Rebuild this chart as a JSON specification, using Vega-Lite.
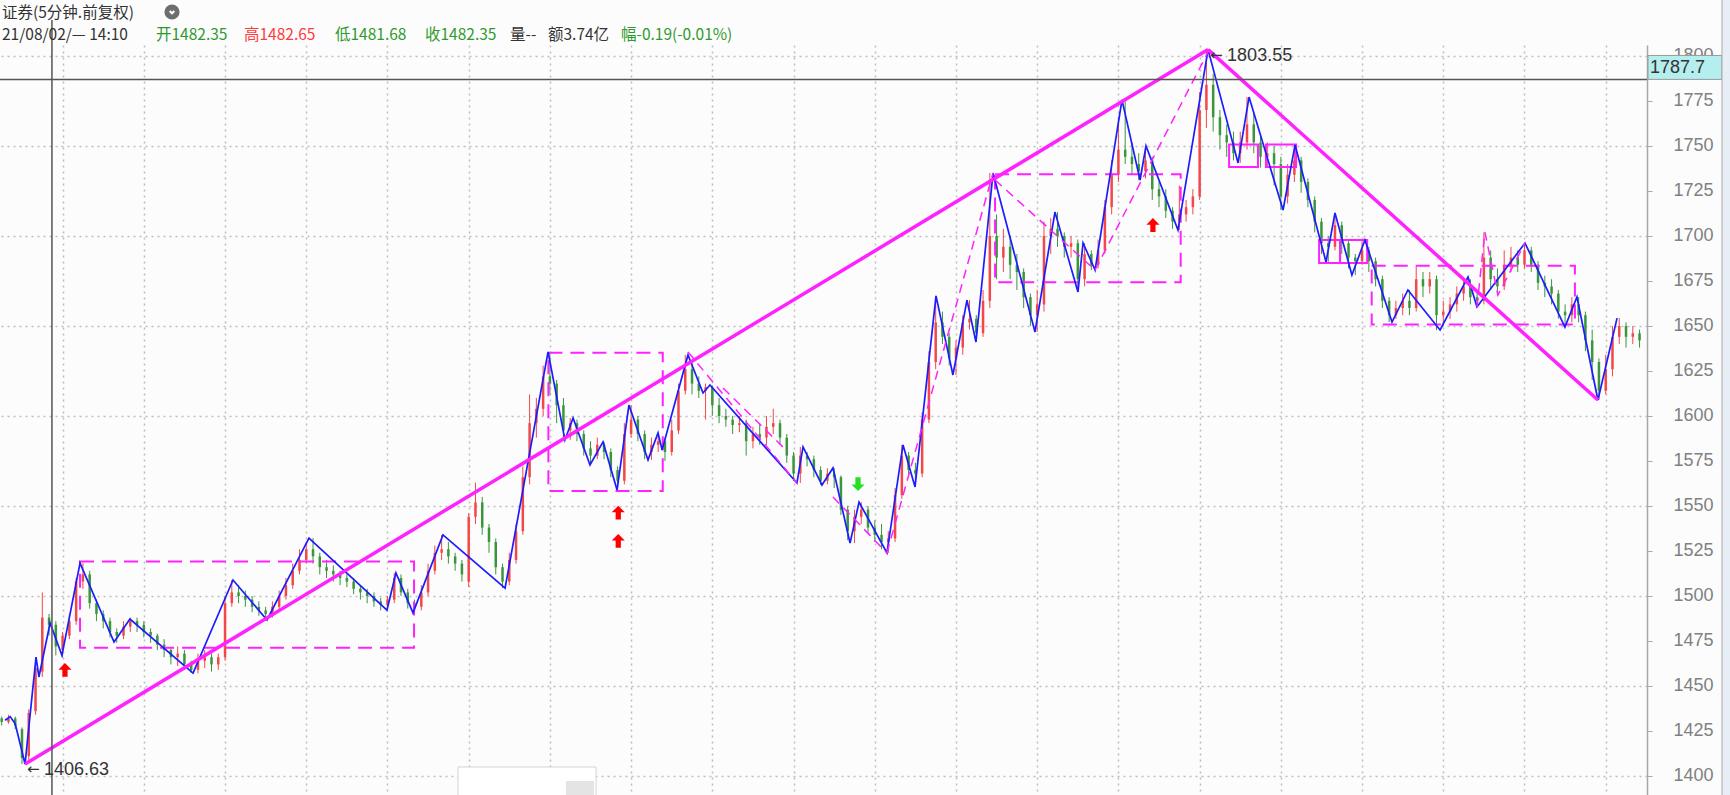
{
"$schema": "https://vega.github.io/schema/vega-lite/v6.json",
"width": 1647, "height": 750,
"autosize": {"type": "none"},
"padding": {"left": 0, "top": 45, "right": 83, "bottom": 0},
"background": "#fcfcfc",
"config": {"view": {"stroke": null}},
"datasets": {
"candles": [
{"b":12,"o":1432,"h":1433,"l":1428,"c":1430},{"b":16,"o":1430,"h":1434,"l":1429,"c":1432},{"b":20,"o":1432,"h":1433,"l":1426,"c":1428},{"b":24,"o":1426,"h":1427,"l":1406.63,"c":1410},{"b":28,"o":1411,"h":1437,"l":1409,"c":1435},{"b":32,"o":1436,"h":1466,"l":1434,"c":1460},{"b":36,"o":1458,"h":1502,"l":1455,"c":1488},{"b":40,"o":1488,"h":1490,"l":1478,"c":1484},{"b":44,"o":1484,"h":1486,"l":1467,"c":1472},{"b":48,"o":1470,"h":1480,"l":1466,"c":1478},
{"b":52,"o":1478,"h":1490,"l":1476,"c":1486},{"b":56,"o":1486,"h":1510,"l":1484,"c":1508},{"b":60,"o":1508,"h":1518.3,"l":1504,"c":1512},{"b":64,"o":1512,"h":1514,"l":1493,"c":1496},{"b":68,"o":1496,"h":1498,"l":1486,"c":1490},{"b":72,"o":1490,"h":1492,"l":1482,"c":1486},{"b":76,"o":1486,"h":1488,"l":1477,"c":1480},{"b":80,"o":1480,"h":1482,"l":1474,"c":1478},{"b":84,"o":1478,"h":1486,"l":1476,"c":1483},{"b":88,"o":1483,"h":1488,"l":1480,"c":1486},
{"b":92,"o":1486,"h":1488,"l":1480,"c":1484},{"b":96,"o":1484,"h":1486,"l":1477,"c":1480},{"b":100,"o":1480,"h":1482,"l":1474,"c":1478},{"b":104,"o":1478,"h":1479,"l":1470,"c":1473},{"b":108,"o":1473,"h":1476,"l":1466,"c":1470},{"b":112,"o":1470,"h":1471,"l":1462,"c":1466},{"b":116,"o":1466,"h":1472,"l":1461,"c":1468},{"b":120,"o":1468,"h":1470,"l":1459,"c":1462},{"b":124,"o":1462,"h":1464,"l":1457.2,"c":1459},{"b":128,"o":1459,"h":1468,"l":1457,"c":1464},
{"b":132,"o":1464,"h":1470,"l":1460,"c":1466},{"b":136,"o":1466,"h":1468,"l":1458,"c":1462},{"b":140,"o":1462,"h":1468,"l":1459,"c":1466},{"b":144,"o":1466,"h":1500,"l":1464,"c":1496},{"b":148,"o":1496,"h":1508.9,"l":1494,"c":1502},{"b":152,"o":1502,"h":1506,"l":1496,"c":1500},{"b":156,"o":1500,"h":1503,"l":1494,"c":1498},{"b":160,"o":1498,"h":1500,"l":1491,"c":1494},{"b":164,"o":1494,"h":1497,"l":1489,"c":1492},{"b":168,"o":1492,"h":1494,"l":1486.7,"c":1490},
{"b":172,"o":1490,"h":1497,"l":1488,"c":1494},{"b":176,"o":1494,"h":1503,"l":1492,"c":1500},{"b":180,"o":1500,"h":1510,"l":1498,"c":1506},{"b":184,"o":1506,"h":1518,"l":1504,"c":1514},{"b":188,"o":1514,"h":1526,"l":1512,"c":1520},{"b":192,"o":1520,"h":1530,"l":1518,"c":1526},{"b":196,"o":1526,"h":1532.2,"l":1518,"c":1522},{"b":200,"o":1522,"h":1524,"l":1512,"c":1516},{"b":204,"o":1516,"h":1520,"l":1510,"c":1514},{"b":208,"o":1514,"h":1517,"l":1508,"c":1512},
{"b":212,"o":1512,"h":1514,"l":1506,"c":1510},{"b":216,"o":1510,"h":1512,"l":1505,"c":1508},{"b":220,"o":1508,"h":1510,"l":1501,"c":1504},{"b":224,"o":1504,"h":1506,"l":1498,"c":1502},{"b":228,"o":1502,"h":1504,"l":1496,"c":1500},{"b":232,"o":1500,"h":1502,"l":1494,"c":1497},{"b":236,"o":1497,"h":1499,"l":1492,"c":1495},{"b":240,"o":1495,"h":1500,"l":1492.2,"c":1498},{"b":244,"o":1498,"h":1512.8,"l":1496,"c":1510},{"b":248,"o":1510,"h":1512,"l":1500,"c":1502},
{"b":252,"o":1502,"h":1504,"l":1493,"c":1496},{"b":256,"o":1496,"h":1498,"l":1490.6,"c":1494},{"b":260,"o":1494,"h":1506,"l":1492,"c":1502},{"b":264,"o":1502,"h":1518,"l":1500,"c":1514},{"b":268,"o":1514,"h":1528,"l":1512,"c":1524},{"b":272,"o":1524,"h":1533.9,"l":1520,"c":1526},{"b":276,"o":1526,"h":1530,"l":1518,"c":1522},{"b":280,"o":1522,"h":1524,"l":1514,"c":1518},{"b":284,"o":1518,"h":1520,"l":1508,"c":1512},{"b":288,"o":1508,"h":1546,"l":1505,"c":1544},
{"b":292,"o":1544,"h":1563,"l":1540,"c":1552},{"b":296,"o":1552,"h":1555,"l":1534,"c":1538},{"b":300,"o":1538,"h":1540,"l":1524,"c":1530},{"b":304,"o":1530,"h":1532,"l":1512,"c":1516},{"b":308,"o":1516,"h":1518,"l":1504.4,"c":1508},{"b":312,"o":1508,"h":1524,"l":1506,"c":1520},{"b":316,"o":1520,"h":1540,"l":1518,"c":1536},{"b":320,"o":1536,"h":1572,"l":1534,"c":1566},{"b":324,"o":1566,"h":1612,"l":1562,"c":1596},{"b":328,"o":1596,"h":1610,"l":1588,"c":1604},
{"b":332,"o":1604,"h":1628,"l":1600,"c":1622},{"b":336,"o":1622,"h":1635.6,"l":1612,"c":1618},{"b":340,"o":1618,"h":1620,"l":1596,"c":1606},{"b":344,"o":1606,"h":1610,"l":1588,"c":1592},{"b":348,"o":1592,"h":1598.9,"l":1586.7,"c":1596},{"b":352,"o":1596,"h":1598,"l":1586,"c":1590},{"b":356,"o":1590,"h":1592,"l":1578,"c":1582},{"b":360,"o":1582,"h":1586,"l":1572.8,"c":1578},{"b":364,"o":1578,"h":1588,"l":1576,"c":1584},{"b":368,"o":1584,"h":1585.6,"l":1576,"c":1580},
{"b":372,"o":1580,"h":1582,"l":1566,"c":1570},{"b":376,"o":1570,"h":1572,"l":1558.9,"c":1564},{"b":380,"o":1564,"h":1596,"l":1562,"c":1590},{"b":384,"o":1590,"h":1606.1,"l":1588,"c":1598},{"b":388,"o":1598,"h":1600,"l":1586,"c":1590},{"b":392,"o":1590,"h":1592,"l":1576,"c":1580},{"b":396,"o":1580,"h":1588,"l":1575.6,"c":1584},{"b":400,"o":1584,"h":1590.6,"l":1580,"c":1586},{"b":404,"o":1586,"h":1588,"l":1575,"c":1580},{"b":408,"o":1580,"h":1598,"l":1578,"c":1592},
{"b":412,"o":1592,"h":1618,"l":1590,"c":1614},{"b":416,"o":1614,"h":1633.9,"l":1612,"c":1626},{"b":420,"o":1626,"h":1630,"l":1612,"c":1618},{"b":424,"o":1618,"h":1622,"l":1610,"c":1614},{"b":428,"o":1614,"h":1618,"l":1598,"c":1616},{"b":432,"o":1616,"h":1617,"l":1600,"c":1606},{"b":436,"o":1606,"h":1610,"l":1596,"c":1600},{"b":440,"o":1600,"h":1604,"l":1594,"c":1598},{"b":444,"o":1598,"h":1600,"l":1590,"c":1595},{"b":448,"o":1595,"h":1600,"l":1591,"c":1596},
{"b":452,"o":1596,"h":1598,"l":1578,"c":1586},{"b":456,"o":1586,"h":1594,"l":1582,"c":1590},{"b":460,"o":1590,"h":1596,"l":1584,"c":1588},{"b":464,"o":1588,"h":1600,"l":1584,"c":1594},{"b":468,"o":1594,"h":1604,"l":1590,"c":1596},{"b":472,"o":1596,"h":1598,"l":1584,"c":1588},{"b":476,"o":1588,"h":1590,"l":1574,"c":1578},{"b":480,"o":1578,"h":1580,"l":1564,"c":1568},{"b":484,"o":1568,"h":1582.8,"l":1562.8,"c":1578},{"b":488,"o":1578,"h":1580,"l":1572,"c":1576},
{"b":492,"o":1576,"h":1578,"l":1566,"c":1570},{"b":496,"o":1570,"h":1572,"l":1561.7,"c":1564},{"b":500,"o":1564,"h":1571,"l":1562,"c":1568},{"b":504,"o":1568,"h":1571.1,"l":1560,"c":1566},{"b":508,"o":1566,"h":1567,"l":1545,"c":1548},{"b":512,"o":1548,"h":1550,"l":1531,"c":1536},{"b":516,"o":1536,"h":1548,"l":1529.4,"c":1544},{"b":520,"o":1544,"h":1552.2,"l":1540,"c":1548},{"b":524,"o":1548,"h":1550,"l":1535,"c":1538},{"b":528,"o":1538,"h":1542,"l":1530,"c":1534},
{"b":532,"o":1534,"h":1540,"l":1526,"c":1530},{"b":536,"o":1530,"h":1536,"l":1523.9,"c":1532},{"b":540,"o":1532,"h":1560,"l":1530,"c":1556},{"b":544,"o":1556,"h":1583.9,"l":1554,"c":1578},{"b":548,"o":1578,"h":1580,"l":1566,"c":1570},{"b":552,"o":1570,"h":1574,"l":1560.6,"c":1568},{"b":556,"o":1568,"h":1602,"l":1566,"c":1598},{"b":560,"o":1598,"h":1636,"l":1596,"c":1630},{"b":564,"o":1630,"h":1666.7,"l":1626,"c":1652},{"b":568,"o":1652,"h":1658,"l":1640,"c":1644},
{"b":572,"o":1644,"h":1646,"l":1628,"c":1632},{"b":576,"o":1632,"h":1642,"l":1622.8,"c":1638},{"b":580,"o":1638,"h":1656,"l":1634,"c":1652},{"b":584,"o":1652,"h":1664.4,"l":1648,"c":1654},{"b":588,"o":1654,"h":1656,"l":1641.1,"c":1646},{"b":592,"o":1646,"h":1670,"l":1644,"c":1664},{"b":596,"o":1664,"h":1735,"l":1660,"c":1700},{"b":600,"o":1700,"h":1712,"l":1676,"c":1688},{"b":604,"o":1688,"h":1704,"l":1680,"c":1694},{"b":608,"o":1694,"h":1700,"l":1676,"c":1684},
{"b":612,"o":1684,"h":1690,"l":1670,"c":1680},{"b":616,"o":1680,"h":1682,"l":1660,"c":1666},{"b":620,"o":1666,"h":1668,"l":1650,"c":1656},{"b":624,"o":1656,"h":1670,"l":1646.7,"c":1662},{"b":628,"o":1662,"h":1708,"l":1658,"c":1700},{"b":632,"o":1700,"h":1710,"l":1690,"c":1704},{"b":636,"o":1704,"h":1713.3,"l":1694,"c":1700},{"b":640,"o":1700,"h":1702,"l":1688,"c":1694},{"b":644,"o":1694,"h":1700,"l":1688,"c":1696},{"b":648,"o":1696,"h":1698,"l":1668.9,"c":1676},
{"b":652,"o":1676,"h":1696.1,"l":1672,"c":1690},{"b":656,"o":1690,"h":1692,"l":1681.1,"c":1684},{"b":660,"o":1684,"h":1698,"l":1682,"c":1692},{"b":664,"o":1692,"h":1720,"l":1690,"c":1716},{"b":668,"o":1716,"h":1742,"l":1712,"c":1734},{"b":672,"o":1734,"h":1766,"l":1730,"c":1748},{"b":676,"o":1748,"h":1775.6,"l":1740,"c":1744},{"b":680,"o":1744,"h":1752,"l":1734,"c":1740},{"b":684,"o":1740,"h":1746,"l":1731.1,"c":1736},{"b":688,"o":1736,"h":1750,"l":1732,"c":1742},
{"b":692,"o":1742,"h":1744,"l":1720,"c":1726},{"b":696,"o":1726,"h":1730,"l":1716,"c":1722},{"b":700,"o":1722,"h":1726,"l":1710,"c":1714},{"b":704,"o":1714,"h":1716,"l":1704,"c":1708},{"b":708,"o":1708,"h":1728,"l":1703.3,"c":1712},{"b":712,"o":1712,"h":1720,"l":1708,"c":1716},{"b":716,"o":1716,"h":1726,"l":1712,"c":1722},{"b":720,"o":1722,"h":1780,"l":1720,"c":1770},{"b":724,"o":1770,"h":1803.55,"l":1760,"c":1784},{"b":728,"o":1784,"h":1790,"l":1758,"c":1766},
{"b":732,"o":1766,"h":1770,"l":1748,"c":1756},{"b":736,"o":1756,"h":1762,"l":1744,"c":1752},{"b":740,"o":1752,"h":1758,"l":1742,"c":1746},{"b":744,"o":1746,"h":1758,"l":1740.6,"c":1752},{"b":748,"o":1752,"h":1777.2,"l":1748,"c":1762},{"b":752,"o":1762,"h":1768,"l":1746,"c":1752},{"b":756,"o":1752,"h":1756,"l":1738,"c":1744},{"b":760,"o":1744,"h":1752,"l":1738,"c":1746},{"b":764,"o":1746,"h":1750,"l":1728,"c":1740},{"b":768,"o":1740,"h":1744,"l":1714.4,"c":1722},
{"b":772,"o":1722,"h":1740,"l":1718,"c":1734},{"b":776,"o":1734,"h":1750.6,"l":1730,"c":1742},{"b":780,"o":1742,"h":1744,"l":1724,"c":1730},{"b":784,"o":1730,"h":1732,"l":1716,"c":1720},{"b":788,"o":1720,"h":1722,"l":1702,"c":1708},{"b":792,"o":1708,"h":1710,"l":1690,"c":1696},{"b":796,"o":1696,"h":1700,"l":1685.6,"c":1694},{"b":800,"o":1694,"h":1712.8,"l":1692,"c":1706},{"b":804,"o":1706,"h":1708,"l":1690,"c":1696},{"b":808,"o":1696,"h":1698,"l":1682,"c":1688},
{"b":812,"o":1688,"h":1690,"l":1678.3,"c":1686},{"b":816,"o":1686,"h":1697.8,"l":1684,"c":1692},{"b":820,"o":1692,"h":1694,"l":1680,"c":1686},{"b":824,"o":1686,"h":1688,"l":1672,"c":1676},{"b":828,"o":1676,"h":1678,"l":1660,"c":1664},{"b":832,"o":1664,"h":1666,"l":1652.2,"c":1656},{"b":836,"o":1656,"h":1664,"l":1654,"c":1660},{"b":840,"o":1660,"h":1668,"l":1656,"c":1664},{"b":844,"o":1664,"h":1670,"l":1656,"c":1660},{"b":848,"o":1660,"h":1683,"l":1658,"c":1676},
{"b":852,"o":1676,"h":1680,"l":1666,"c":1672},{"b":856,"o":1672,"h":1680,"l":1668,"c":1676},{"b":860,"o":1676,"h":1678,"l":1647.8,"c":1656},{"b":864,"o":1656,"h":1664,"l":1650,"c":1658},{"b":868,"o":1658,"h":1666,"l":1654,"c":1662},{"b":872,"o":1662,"h":1672,"l":1658,"c":1668},{"b":876,"o":1668,"h":1677.2,"l":1664,"c":1672},{"b":880,"o":1672,"h":1676,"l":1662,"c":1666},{"b":884,"o":1666,"h":1670,"l":1660.6,"c":1664},{"b":888,"o":1664,"h":1702,"l":1662,"c":1688},
{"b":892,"o":1688,"h":1692,"l":1670,"c":1676},{"b":896,"o":1676,"h":1682,"l":1667,"c":1672},{"b":900,"o":1672,"h":1692,"l":1670,"c":1684},{"b":904,"o":1684,"h":1694,"l":1680,"c":1688},{"b":908,"o":1688,"h":1692,"l":1680,"c":1684},{"b":912,"o":1684,"h":1696.1,"l":1682,"c":1692},{"b":916,"o":1692,"h":1694,"l":1680,"c":1684},{"b":920,"o":1684,"h":1686,"l":1670,"c":1674},{"b":924,"o":1674,"h":1678,"l":1666,"c":1672},{"b":928,"o":1672,"h":1676,"l":1662,"c":1668},
{"b":932,"o":1668,"h":1670,"l":1654,"c":1658},{"b":936,"o":1658,"h":1662,"l":1649.4,"c":1656},{"b":940,"o":1656,"h":1666,"l":1652,"c":1662},{"b":944,"o":1662,"h":1666.1,"l":1652,"c":1656},{"b":948,"o":1656,"h":1658,"l":1636,"c":1642},{"b":952,"o":1642,"h":1648,"l":1620,"c":1630},{"b":956,"o":1630,"h":1632,"l":1608.9,"c":1614},{"b":960,"o":1614,"h":1634,"l":1612,"c":1626},{"b":964,"o":1626,"h":1650,"l":1622,"c":1644},{"b":968,"o":1644,"h":1654.4,"l":1640,"c":1650},
{"b":972,"o":1650,"h":1652,"l":1638,"c":1644},{"b":976,"o":1644,"h":1650,"l":1640,"c":1646},{"b":980,"o":1646,"h":1648,"l":1638,"c":1642}
],
"zigzag": [
{"b":14,"v":1431},{"b":17,"v":1433},{"b":20,"v":1429},{"b":25.8,"v":1406.63},{"b":32.3,"v":1466},{"b":34,"v":1455},{"b":40.6,"v":1485},{"b":47.6,"v":1467},{"b":58.3,"v":1518.3},{"b":78.4,"v":1474.4},{"b":87.8,"v":1487.2},{"b":125.1,"v":1457.2},{"b":148.7,"v":1508.9},{"b":168.8,"v":1486.7},{"b":193.6,"v":1532.2},{"b":239.7,"v":1492.2},{"b":245,"v":1512.8},{"b":255.1,"v":1490.6},{"b":272.8,"v":1533.9},{"b":309.5,"v":1504.4},{"b":334.9,"v":1635.6},{"b":344.9,"v":1586.7},{"b":349.7,"v":1598.9},{"b":359.7,"v":1572.8},{"b":367.4,"v":1585.6},{"b":375.7,"v":1558.9},{"b":382.7,"v":1606.1},{"b":394,"v":1575.6},{"b":399.9,"v":1590.6},{"b":402.3,"v":1581.1},{"b":417.6,"v":1633.9},{"b":426.5,"v":1612.8},{"b":430.6,"v":1617.2},{"b":482,"v":1562.8},{"b":485.6,"v":1582.8},{"b":496.8,"v":1561.7},{"b":503.3,"v":1571.1},{"b":513.4,"v":1529.4},{"b":518.7,"v":1552.2},{"b":535.2,"v":1523.9},{"b":544.7,"v":1583.9},{"b":551.8,"v":1560.6},{"b":564.2,"v":1666.7},{"b":574.2,"v":1622.8},{"b":582.5,"v":1664.4},{"b":587.8,"v":1641.1},{"b":597.9,"v":1735},{"b":622.7,"v":1646.7},{"b":634.5,"v":1713.3},{"b":648.1,"v":1668.9},{"b":651.1,"v":1696.1},{"b":658.2,"v":1681.1},{"b":674.1,"v":1775.6},{"b":684.8,"v":1731.1},{"b":688.3,"v":1750},{"b":707.2,"v":1703.3},{"b":725,"v":1803.55},{"b":742.7,"v":1740.6},{"b":749.2,"v":1777.2},{"b":769.3,"v":1714.4},{"b":776.4,"v":1750.6},{"b":794.7,"v":1685.6},{"b":800,"v":1712.8},{"b":810,"v":1678.3},{"b":817.7,"v":1697.8},{"b":833.7,"v":1652.2},{"b":843.1,"v":1670},{"b":862.1,"v":1647.8},{"b":878.6,"v":1677.2},{"b":883.9,"v":1660.6},{"b":912.3,"v":1696.1},{"b":935.9,"v":1649.4},{"b":943,"v":1666.1},{"b":955.4,"v":1608.9},{"b":966.7,"v":1654.4}
],
"trend": [
{"seg":"up","b":25.8,"v":1406.63},{"seg":"up","b":725,"v":1803.55},{"seg":"down","b":725,"v":1803.55},{"seg":"down","b":955.4,"v":1608.9}
],
"dlines": [
{"seg":"d1","b":417.6,"v":1635.6},{"seg":"d1","b":482,"v":1562.8},
{"seg":"d2","b":438.3,"v":1615.6},{"seg":"d2","b":476.7,"v":1580},
{"seg":"d3","b":503.3,"v":1555},{"seg":"d3","b":535.2,"v":1523.9},
{"seg":"d4","b":535.2,"v":1523.9},{"seg":"d4","b":597.9,"v":1735},
{"seg":"d5","b":599.1,"v":1731.1},{"seg":"d5","b":658.2,"v":1681.1},
{"seg":"d6","b":658.2,"v":1681.1},{"seg":"d6","b":725,"v":1802.2},
{"seg":"d7","b":883.9,"v":1660.6},{"seg":"d7","b":888.6,"v":1702.2},{"seg":"d7","b":896.3,"v":1667.2},{"seg":"d7","b":912.3,"v":1696.1}
],
"dboxes": [
{"b1":58.3,"b2":255.7,"v1":1471.3,"v2":1519.1},{"b1":335.1,"b2":402.7,"v1":1558.3,"v2":1635.2},{"b1":599.1,"b2":708.8,"v1":1674.3,"v2":1734.3},{"b1":821.7,"b2":941.8,"v1":1650.9,"v2":1683.5}
],
"sboxes": [
{"b1":737.4,"b2":754.5,"v1":1738.3,"v2":1750.8},{"b1":759.2,"b2":777,"v1":1738.3,"v2":1750.8},{"b1":790.6,"b2":803,"v1":1685,"v2":1697.8},{"b1":803,"b2":819,"v1":1685,"v2":1697.8}
],
"signals": [
{"b":49.4,"v":1458.9,"sig":"buy"},{"b":376.4,"v":1546.3,"sig":"buy"},{"b":376.4,"v":1530.6,"sig":"buy"},{"b":692.4,"v":1706.1,"sig":"buy"},{"b":518.1,"v":1562.2,"sig":"sell"}
],
"extremes": [
{"b":25.8,"v":1406.63,"label":"1406.63"},{"b":725,"v":1803.55,"label":"1803.55"}
]
},
"layer": [
{"data": {"name": "candles"},
 "mark": {"type": "rule", "strokeWidth": 1},
 "encoding": {
  "x": {"field": "b", "type": "quantitative", "title": null,
        "scale": {"domain": [11, 984.4], "nice": false, "zero": false},
        "axis": {"values": [48,96,144,192,240,288,336,384,432,480,528,576,624,672,720,768,816,864,912,960],
                 "grid": true, "gridColor": "#bdbdbd", "gridDash": [2,4], "gridWidth": 1.5,
                 "labels": false, "ticks": false, "domain": false}},
  "y": {"field": "l", "type": "quantitative", "title": null,
        "scale": {"domain": [1389.44, 1806.11], "nice": false, "zero": false},
        "axis": {"orient": "right", "values": [1400,1425,1450,1475,1500,1525,1550,1575,1600,1625,1650,1675,1700,1725,1750,1775,1800],
                 "format": "d",
                 "grid": true, "gridOpacity": {"condition": {"test": "datum.value % 50 === 0", "value": 1}, "value": 0},
                 "gridColor": "#bdbdbd", "gridDash": [2,4], "gridWidth": 1.5,
                 "domainColor": "#a8a8a8", "domainWidth": 1.5, "tickColor": "#a8a8a8", "tickSize": 5,
                 "labelAlign": "right", "labelPadding": 61, "labelFont": "Liberation Sans", "labelFontSize": 18,
                 "labelColor": "#808080", "labelBaseline": "middle", "labelOverlap": false}},
  "y2": {"field": "h"},
  "color": {"condition": {"test": "datum.c >= datum.o", "value": "#f24848"}, "value": "#3a963a"}
 }},
{"data": {"name": "candles"},
 "mark": {"type": "rule", "strokeWidth": 2.5},
 "encoding": {
  "x": {"field": "b", "type": "quantitative", "title": null},
  "y": {"field": "o", "type": "quantitative", "title": null},
  "y2": {"field": "c"},
  "color": {"condition": {"test": "datum.c >= datum.o", "value": "#f24848"}, "value": "#3a963a"}
 }},
{"data": {"name": "dboxes"},
 "mark": {"type": "rect", "filled": false, "color": "#ff22ff", "strokeWidth": 2, "strokeDash": [14, 8]},
 "encoding": {
  "x": {"field": "b1", "type": "quantitative", "title": null}, "x2": {"field": "b2"},
  "y": {"field": "v2", "type": "quantitative", "title": null}, "y2": {"field": "v1"}
 }},
{"data": {"name": "sboxes"},
 "mark": {"type": "rect", "filled": false, "color": "#ff22ff", "strokeWidth": 2},
 "encoding": {
  "x": {"field": "b1", "type": "quantitative", "title": null}, "x2": {"field": "b2"},
  "y": {"field": "v2", "type": "quantitative", "title": null}, "y2": {"field": "v1"}
 }},
{"data": {"name": "zigzag"},
 "mark": {"type": "line", "color": "#1c1cff", "strokeWidth": 1.7},
 "encoding": {
  "x": {"field": "b", "type": "quantitative", "title": null},
  "y": {"field": "v", "type": "quantitative", "title": null}
 }},
{"data": {"name": "dlines"},
 "mark": {"type": "line", "color": "#ff22ff", "strokeWidth": 1.5, "strokeDash": [9, 6]},
 "encoding": {
  "x": {"field": "b", "type": "quantitative", "title": null},
  "y": {"field": "v", "type": "quantitative", "title": null},
  "detail": {"field": "seg"}
 }},
{"data": {"name": "trend"},
 "mark": {"type": "line", "color": "#ff22ff", "strokeWidth": 3.5},
 "encoding": {
  "x": {"field": "b", "type": "quantitative", "title": null},
  "y": {"field": "v", "type": "quantitative", "title": null},
  "detail": {"field": "seg"}
 }},
{"data": {"values": [{}]},
 "mark": {"type": "rule", "color": "#555555", "strokeWidth": 1.5},
 "encoding": {
  "x": {"datum": 41.7, "type": "quantitative"},
  "y": {"datum": 1820, "type": "quantitative"},
  "y2": {"datum": 1389.44}
 }},
{"data": {"values": [{}]},
 "mark": {"type": "rule", "color": "#555555", "strokeWidth": 1.5},
 "encoding": {
  "y": {"datum": 1787, "type": "quantitative"},
  "x": {"datum": 11, "type": "quantitative"},
  "x2": {"datum": 984.4}
 }},
{"data": {"name": "signals"},
 "mark": {"type": "point", "filled": true, "opacity": 1, "size": 190},
 "encoding": {
  "x": {"field": "b", "type": "quantitative", "title": null},
  "y": {"field": "v", "type": "quantitative", "title": null},
  "shape": {"field": "sig", "type": "nominal", "legend": null,
            "scale": {"domain": ["buy", "sell"], "range": ["M0,-1L0.95,-0.05L0.38,-0.05L0.38,1L-0.38,1L-0.38,-0.05L-0.95,-0.05Z", "M0,1L0.95,0.05L0.38,0.05L0.38,-1L-0.38,-1L-0.38,0.05L-0.95,0.05Z"]}},
  "color": {"field": "sig", "type": "nominal", "legend": null,
            "scale": {"domain": ["buy", "sell"], "range": ["#ff0000", "#22e022"]}}
 }},
{"data": {"name": "extremes"},
 "mark": {"type": "text", "align": "left", "baseline": "middle", "dx": 19, "dy": 6, "font": "Liberation Sans", "fontSize": 18, "color": "#333333"},
 "encoding": {
  "x": {"field": "b", "type": "quantitative", "title": null},
  "y": {"field": "v", "type": "quantitative", "title": null},
  "text": {"field": "label"}
 }},
{"data": {"name": "extremes"},
 "mark": {"type": "text", "text": "←", "align": "left", "baseline": "middle", "dx": 2, "dy": 5, "font": "DejaVu Sans", "fontSize": 15, "color": "#333333"},
 "encoding": {
  "x": {"field": "b", "type": "quantitative", "title": null},
  "y": {"field": "v", "type": "quantitative", "title": null}
 }},
{"data": {"values": [{}]},
 "mark": {"type": "rect", "fill": "#b4eeee", "stroke": "#9a9a9a", "strokeWidth": 1},
 "encoding": {
  "x": {"value": 1648}, "x2": {"value": 1722},
  "y": {"datum": 1800.3, "type": "quantitative"}, "y2": {"datum": 1787}
 }},
{"data": {"values": [{}]},
 "mark": {"type": "text", "text": "1787.7", "align": "left", "baseline": "middle", "font": "Liberation Sans", "fontSize": 18, "color": "#333333"},
 "encoding": {
  "x": {"value": 1650},
  "y": {"datum": 1793.6, "type": "quantitative"}
 }},
{"data": {"values": [{}]},
 "mark": {"type": "rect", "fill": "#e8eef5", "stroke": "#aaaaaa", "strokeWidth": 1},
 "encoding": {"x": {"value": 1722}, "x2": {"value": 1735}, "y": {"value": -46}, "y2": {"value": 752}}},
{"data": {"values": [{}]},
 "mark": {"type": "rect", "fill": "#ffffff", "stroke": "#d4d4d4", "strokeWidth": 1},
 "encoding": {"x": {"value": 458}, "x2": {"value": 596}, "y": {"value": 722}, "y2": {"value": 752}}},
{"data": {"values": [{}]},
 "mark": {"type": "rect", "fill": "#e4e4e4"},
 "encoding": {"x": {"value": 566}, "x2": {"value": 594}, "y": {"value": 736}, "y2": {"value": 752}}},
{"data": {"values": [{}]},
 "mark": {"type": "text", "text": "证券(5分钟.前复权)", "x": 2, "y": -32, "align": "left", "baseline": "middle", "font": "Noto Sans CJK SC", "fontSize": 15.5, "color": "#333333"}},
{"data": {"values": [{}]},
 "mark": {"type": "point", "shape": "circle", "filled": true, "color": "#6e6e6e", "opacity": 1, "size": 230, "x": 172, "y": -33}},
{"data": {"values": [{}]},
 "mark": {"type": "point", "shape": "M-0.55,-0.25L0,0.3L0.55,-0.25", "filled": false, "color": "#ffffff", "strokeWidth": 2, "opacity": 1, "size": 70, "x": 172, "y": -33}},
{"data": {"values": [{}]},
 "mark": {"type": "text", "text": "21/08/02/— 14:10", "x": 2, "y": -10, "align": "left", "baseline": "middle", "font": "Noto Sans CJK SC", "fontSize": 15.5, "color": "#333333"}},
{"data": {"values": [{}]},
 "mark": {"type": "text", "text": "开1482.35", "x": 156, "y": -10, "align": "left", "baseline": "middle", "font": "Noto Sans CJK SC", "fontSize": 15.5, "color": "#2e9a2e"}},
{"data": {"values": [{}]},
 "mark": {"type": "text", "text": "高1482.65", "x": 244, "y": -10, "align": "left", "baseline": "middle", "font": "Noto Sans CJK SC", "fontSize": 15.5, "color": "#ff3b3b"}},
{"data": {"values": [{}]},
 "mark": {"type": "text", "text": "低1481.68", "x": 335, "y": -10, "align": "left", "baseline": "middle", "font": "Noto Sans CJK SC", "fontSize": 15.5, "color": "#2e9a2e"}},
{"data": {"values": [{}]},
 "mark": {"type": "text", "text": "收1482.35", "x": 425, "y": -10, "align": "left", "baseline": "middle", "font": "Noto Sans CJK SC", "fontSize": 15.5, "color": "#2e9a2e"}},
{"data": {"values": [{}]},
 "mark": {"type": "text", "text": "量--", "x": 510, "y": -10, "align": "left", "baseline": "middle", "font": "Noto Sans CJK SC", "fontSize": 15.5, "color": "#333333"}},
{"data": {"values": [{}]},
 "mark": {"type": "text", "text": "额3.74亿", "x": 548, "y": -10, "align": "left", "baseline": "middle", "font": "Noto Sans CJK SC", "fontSize": 15.5, "color": "#333333"}},
{"data": {"values": [{}]},
 "mark": {"type": "text", "text": "幅-0.19(-0.01%)", "x": 621, "y": -10, "align": "left", "baseline": "middle", "font": "Noto Sans CJK SC", "fontSize": 15.5, "color": "#2e9a2e"}}
]
}
